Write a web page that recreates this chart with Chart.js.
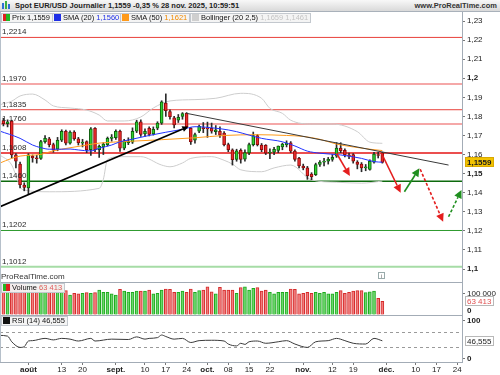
<!DOCTYPE html>
<html lang="fr"><head><meta charset="utf-8">
<title>Spot EUR/USD Journalier</title>
<script src="https://cdn.jsdelivr.net/npm/chart.js@4.4.1/dist/chart.umd.min.js"></script>
<style>
html,body{margin:0;padding:0;background:#fff}
body{position:relative;width:500px;height:375px;overflow:hidden;font-family:"Liberation Sans",Arial,sans-serif;color:#222}
canvas{position:absolute;left:0;display:block}
.abs{position:absolute;white-space:nowrap;z-index:5}
#title{left:0;top:0;width:500px;height:12px;background:linear-gradient(#f8f8f8,#d9d9d9);border-bottom:1px solid #a9b1ba;box-sizing:border-box;font-size:7.5px;font-weight:bold;line-height:11px}
.lg{height:10px;box-sizing:border-box;border:1px solid #c3c8ce;background:rgba(243,243,243,0.95);font-size:7.5px;line-height:8px;padding:0 2px 0 1px;color:#111}
.sq{display:inline-block;width:7px;height:7px;vertical-align:-1px;margin-right:2px}
</style></head><body>
<canvas id="cPrice" width="500" height="270" style="top:12px"></canvas>
<canvas id="cVol" width="500" height="33" style="top:282px"></canvas>
<canvas id="cRsi" width="500" height="60" style="top:315px"></canvas>

<div id="title" class="abs">
  <span class="abs" style="left:2px;top:3px;width:2px;height:6px;background:#2d6fd6"></span>
  <span class="abs" style="left:5px;top:1px;width:2px;height:8px;background:#3cb043"></span>
  <span class="abs" style="left:8px;top:4px;width:2px;height:5px;background:#2d6fd6"></span>
  <span class="abs" style="left:15px;top:0">Spot EUR/USD Journalier 1,1559 -0,35 % 28 nov. 2025, 10:59:51</span>
  <span class="abs" style="right:3px;top:0;color:#333">www.ProRealTime.com</span>
</div>
<div class="abs lg" style="left:1px;top:13px"><span class="sq" style="background:linear-gradient(90deg,#e02020 50%,#22b822 50%)"></span>Prix 1,1559</div>
<div class="abs lg" style="left:52px;top:13px"><span class="sq" style="background:#1f2fe6"></span>SMA (20) <span style="color:#1f2fe6">1,1560</span></div>
<div class="abs lg" style="left:120px;top:13px"><span class="sq" style="background:#ff9a1a"></span>SMA (50) <span style="color:#f08a00">1,1621</span></div>
<div class="abs lg" style="left:190px;top:13px"><span class="sq" style="background:#cfcfcf"></span>Bollinger (20 2,5) <span style="color:#c4c4c4">1,1659 1,1461</span></div>
<div class="abs" style="left:1px;top:272px;font-size:8px;color:#333">ProRealTime.com</div>
<div class="abs" style="left:378px;top:272px;width:7px;height:7px;border:1px solid #9aa;font-size:6px;line-height:7px;text-align:center;color:#666;box-sizing:border-box">i</div>
<div class="abs lg" style="left:1px;top:283px"><span class="sq" style="background:linear-gradient(90deg,#22b822 50%,#e02020 50%)"></span>Volume <span style="color:#e05a5a">63 413</span></div>
<div class="abs lg" style="left:1px;top:316px"><span class="sq" style="background:#111"></span>RSI (14) 46,555</div>
<div class="abs" style="left:0;top:12px;width:1px;height:350px;background:#b6c0ca"></div>

<script>
// ---------------- DATA ----------------
// trading days from 24 juil. 2025 (index 0) to 28 nov. 2025 (index 91)
const openP  = [1.1778,1.1762,1.1775,1.1598,1.1550,1.1440,1.1425,1.1592,1.1582,1.1580,
                1.1668,1.1683,1.1652,1.1628,1.1675,1.1722,1.1660,1.1718,1.1683,1.1660,
                1.1668,1.1625,1.1738,1.1625,1.1640,1.1652,1.1685,1.1688,1.1722,1.1634,
                1.1662,1.1665,1.1722,1.1772,1.1708,1.1738,1.1708,1.1738,1.1764,1.1870,
                1.1825,1.1792,1.1780,1.1800,1.1816,1.1738,1.1676,1.1723,1.1742,1.1738,
                1.1738,1.1720,1.1722,1.1713,1.1652,1.1625,1.1575,1.1622,1.1576,1.1608,
                1.1652,1.1699,1.1650,1.1648,1.1608,1.1612,1.1622,1.1640,1.1652,1.1662,
                1.1618,1.1580,1.1540,1.1530,1.1498,1.1495,1.1548,1.1560,1.1566,1.1575,
                1.1592,1.1634,1.1622,1.1598,1.1600,1.1560,1.1550,1.1530,1.1522,1.1560,
                1.1600,1.1608];
const highP  = [1.1790,1.1782,1.1780,1.1605,1.1560,1.1452,1.1605,1.1598,1.1596,1.1675,
                1.1699,1.1690,1.1660,1.1690,1.1730,1.1728,1.1725,1.1725,1.1690,1.1680,
                1.1672,1.1742,1.1742,1.1650,1.1662,1.1692,1.1705,1.1730,1.1728,1.1680,
                1.1688,1.1740,1.1780,1.1782,1.1735,1.1745,1.1745,1.1772,1.1882,1.1918,
                1.1835,1.1800,1.1810,1.1820,1.1820,1.1742,1.1712,1.1755,1.1768,1.1770,
                1.1765,1.1752,1.1745,1.1720,1.1660,1.1630,1.1628,1.1630,1.1625,1.1660,
                1.1718,1.1705,1.1658,1.1652,1.1630,1.1638,1.1645,1.1660,1.1672,1.1668,
                1.1625,1.1585,1.1550,1.1538,1.1505,1.1555,1.1568,1.1580,1.1585,1.1600,
                1.1663,1.1662,1.1630,1.1608,1.1605,1.1568,1.1558,1.1548,1.1572,1.1612,
                1.1612,1.1612];
const lowP   = [1.1750,1.1745,1.1582,1.1530,1.1425,1.1410,1.1392,1.1560,1.1555,1.1575,
                1.1660,1.1640,1.1612,1.1620,1.1668,1.1650,1.1655,1.1675,1.1650,1.1640,
                1.1610,1.1595,1.1615,1.1585,1.1600,1.1645,1.1670,1.1680,1.1616,1.1625,
                1.1652,1.1658,1.1715,1.1695,1.1695,1.1698,1.1702,1.1730,1.1758,1.1800,
                1.1785,1.1740,1.1768,1.1785,1.1740,1.1653,1.1660,1.1715,1.1715,1.1690,
                1.1712,1.1705,1.1690,1.1645,1.1615,1.1545,1.1565,1.1555,1.1565,1.1600,
                1.1645,1.1645,1.1615,1.1600,1.1578,1.1600,1.1610,1.1625,1.1640,1.1610,
                1.1565,1.1530,1.1520,1.1470,1.1468,1.1490,1.1538,1.1540,1.1550,1.1565,
                1.1585,1.1610,1.1588,1.1578,1.1555,1.1525,1.1510,1.1515,1.1518,1.1555,
                1.1582,1.1555];
const closeP = [1.1762,1.1772,1.1598,1.1566,1.1442,1.1428,1.1598,1.1582,1.1578,1.1668,
                1.1685,1.1652,1.1625,1.1675,1.1722,1.1660,1.1718,1.1683,1.1662,1.1665,
                1.1625,1.1735,1.1625,1.1643,1.1655,1.1685,1.1692,1.1722,1.1634,1.1670,
                1.1670,1.1722,1.1772,1.1705,1.1722,1.1705,1.1732,1.1765,1.1877,1.1830,
                1.1798,1.1755,1.1795,1.1815,1.1746,1.1668,1.1705,1.1748,1.1736,1.1735,
                1.1722,1.1730,1.1702,1.1652,1.1625,1.1573,1.1620,1.1575,1.1610,1.1652,
                1.1699,1.1652,1.1625,1.1607,1.1612,1.1628,1.1645,1.1655,1.1660,1.1618,
                1.1575,1.1540,1.1530,1.1490,1.1484,1.1548,1.1560,1.1565,1.1575,1.1585,
                1.1634,1.1620,1.1598,1.1592,1.1565,1.1548,1.1530,1.1534,1.1566,1.1603,
                1.1595,1.1559];
const volume = [140000,130000,150000,145000,150000,140000,155000,135000,130000,140000,
                135000,130000,120000,135000,125000,112000,92000,100000,97000,100000,
                103000,100000,103000,115000,105000,105000,97000,92000,118000,110000,
                105000,105000,110000,110000,110000,115000,97000,100000,115000,120000,
                118000,105000,105000,110000,105000,120000,105000,112000,115000,130000,
                107000,97000,128000,115000,115000,115000,100000,126000,130000,115000,
                123000,126000,110000,115000,105000,97000,105000,105000,105000,120000,
                118000,97000,100000,105000,100000,105000,100000,105000,97000,97000,
                105000,112000,100000,105000,110000,112000,112000,103000,107000,110000,
                77000,63413];

// indicator lines: [trading-day index] -> value
const sma20Idx = [-1,4,7,9,11,14,16,18,21,23,26,28,30,35,39,43,46,51,54,56,59,62,67,70,73,76,81,86,89,91];
const sma20Val = [1.1724,1.1685,1.1650,1.1636,1.1628,1.1628,1.1629,1.1624,1.1619,1.1633,1.1650,1.1667,1.1676,1.1700,1.1717,1.1732,1.1746,1.1738,1.1729,1.1720,1.1702,1.1685,1.1667,1.1645,1.1618,1.1607,1.1598,1.1580,1.1563,1.1560];
const sma50Idx = [-1,2,4,9,12,15,20,23,30,38,46,53,61,68,72,76,80,84,88,91];
const sma50Val = [1.1554,1.1580,1.1592,1.1601,1.1620,1.1632,1.1650,1.1660,1.1669,1.1678,1.1688,1.1700,1.1704,1.1700,1.1695,1.1680,1.1655,1.1640,1.1628,1.1621];
const bollUpIdx = [-1,2,4,7,10,12,16,20,23,25,29,33,36,40,46,51,57,62,64,67,69,74,79,85,88,91];
const bollUpVal = [1.1860,1.1880,1.1907,1.1917,1.1886,1.1855,1.1844,1.1833,1.1807,1.1776,1.1776,1.1797,1.1844,1.1881,1.1888,1.1895,1.1921,1.1895,1.1842,1.1816,1.1780,1.1760,1.1760,1.1720,1.1665,1.1659];
const bollLoIdx = [-1,2,3,4,5,11,23,24,25,28,33,38,40,43,45,50,53,55,57,62,65,69,74,80,86,91];
const bollLoVal = [1.1600,1.1545,1.1490,1.1430,1.1414,1.1405,1.1423,1.1470,1.1575,1.1589,1.1589,1.1545,1.1536,1.1556,1.1580,1.1589,1.1570,1.1550,1.1520,1.1510,1.1530,1.1545,1.1467,1.1455,1.1450,1.1461];
const rsiIdx = [-1,1,2,4,5,6,7,10,12,14,16,18,21,22,26,30,32,34,35,37,38,39,41,43,45,47,50,53,54,56,57,58,59,61,63,66,68,70,73,75,78,80,82,84,87,89,91];
const rsiVal = [61,59,44,29,31,46,47,53,49,53,51,46,53,46,51,50,57,51,53,55,62,58,51,53,42,47,48,46,38,33,40,37,44,46,40,44,47,38,29,44,47,53,47,40,38,53,46.555];
const rsiLevels = [70, 30];

// horizontal levels drawn on the price panel
const levelPrices = [1.2214,1.1970,1.1835,1.1760,1.1608,1.1460,1.1202,1.1012];
const levelLabels = ['1,2214','1,1970','1,1835','1,1760','1,1608','1,1460','1,1202','1,1012'];
// trend lines [index, price] -> [index, price]
const supportLine    = [[-0.82,1.1327],[44.4,1.1746]];
const resistanceLine = [[44,1.1816],[106.9,1.1545]];
// projected scenario arrows
const scenarioArrows = [
  [[80.0,1.1607],[83.2,1.1488],'down'],
  [[90.8,1.1607],[95.4,1.1400],'down'],
  [[96.3,1.1405],[99.9,1.1528],'up'],
  [[100.1,1.1523],[105.6,1.1248],'down2'],
  [[106.9,1.1274],[110.0,1.1414],'up2']
];

// axis ticks
const priceTicks = [1.10,1.11,1.12,1.13,1.14,1.15,1.16,1.17,1.18,1.19,1.20,1.21,1.22,1.23];
const boldPriceTicks = [1.10,1.15,1.20];
const volTicks = [0,100000];
const rsiTicks = [0,100];
const xTickIdx = [6,14,19,27,34,39,44,49,54,59,64,72,79,84,92,99,104,109];
const xTickLabels = ['août','13','20','sept.','10','17','24','oct.','08','15','22','nov.','12','19','déc.','10','17','24'];
const lastPriceText = '1,1559', lastVolText = '63 413', lastRsiText = '46,555';

// ---------------- LAYOUT / STYLE ----------------
const FONT = '"Liberation Sans", Arial, sans-serif';
Chart.defaults.font.family = FONT;
Chart.defaults.animation = false;
Chart.defaults.plugins.legend.display = false;
Chart.defaults.plugins.tooltip.enabled = false;
Chart.defaults.events = [];

const X_MIN = -0.82, X_MAX = 110.13;
const AXIS_W = 38;
const P_MAX = 1.234717, P_MIN = 1.093208;
const levelColors = ['#e8403a','#f5a8a8','#e8403a','#f5a8a8','#e51515','#0d6a0d','#2e9a2e','#a6dca6'];
const levelWidths = [1,2,1,2,1.5,1.5,1,2];
const UPC = '#2fcf2f', DNC = '#ee2a2a', UPB = '#0d5e0d', DNB = '#8a0c0c';
const BORDER = '#a3acb6';

const idx = openP.map((_, i) => i);
const isUp = idx.map(i => closeP[i] >= openP[i]);
const pts = (xs, ys) => xs.map((x, k) => ({x, y: ys[k]}));
const fmtPrice = v => String(+v.toFixed(2)).replace('.', ',');

function yAxisBase(extra) {
  return Object.assign({
    position: 'right',
    afterFit: s => { s.width = AXIS_W; s.paddingTop = 0; s.paddingBottom = 0; },
    grid: {drawOnChartArea: false, drawTicks: true, tickLength: 3, color: '#777'},
    border: {display: true, color: BORDER},
  }, extra);
}
function hiddenX() {
  return {type: 'linear', display: false, min: X_MIN, max: X_MAX, offset: false};
}
function valueBox(chart, scaleId, value, text, o) {
  const s = chart.scales[scaleId], ctx = chart.ctx;
  const y = Math.round(s.getPixelForValue(value));
  ctx.save();
  ctx.font = o.font;
  const w = Math.ceil(ctx.measureText(text).width) + 4;
  ctx.fillStyle = o.bg;
  ctx.fillRect(s.left + 3, y - 5, w, 10);
  if (o.border) { ctx.strokeStyle = o.border; ctx.lineWidth = 1; ctx.strokeRect(s.left + 3.5, y - 4.5, w - 1, 9); }
  ctx.fillStyle = o.color; ctx.textBaseline = 'middle'; ctx.textAlign = 'left';
  ctx.fillText(text, s.left + 5, y + 0.5);
  ctx.restore();
}
function arrow(ctx, x1, y1, x2, y2, color, width, dash, head) {
  const a = Math.atan2(y2 - y1, x2 - x1);
  const hx = x2 - head * Math.cos(a), hy = y2 - head * Math.sin(a);
  ctx.save();
  ctx.strokeStyle = color; ctx.lineWidth = width; ctx.setLineDash(dash);
  ctx.beginPath(); ctx.moveTo(x1, y1); ctx.lineTo(hx, hy); ctx.stroke();
  ctx.setLineDash([]); ctx.fillStyle = color;
  const hw = head * 0.5;
  ctx.beginPath(); ctx.moveTo(x2, y2);
  ctx.lineTo(hx + hw * Math.sin(a), hy - hw * Math.cos(a));
  ctx.lineTo(hx - hw * Math.sin(a), hy + hw * Math.cos(a));
  ctx.closePath(); ctx.fill();
  ctx.restore();
}
function panelTop(chart) {
  const ctx = chart.ctx, a = chart.chartArea;
  ctx.save(); ctx.strokeStyle = BORDER; ctx.lineWidth = 1;
  ctx.beginPath(); ctx.moveTo(0, a.top + 0.5); ctx.lineTo(a.right, a.top + 0.5); ctx.stroke();
  ctx.restore();
}

// ---------------- PRICE PANEL ----------------
const pricePlugin = {
  id: 'priceDeco',
  beforeDatasetsDraw(chart) {
    const {ctx, chartArea: a, scales: {y}} = chart;
    ctx.save();
    levelPrices.forEach((p, k) => {
      const py = y.getPixelForValue(p);
      ctx.strokeStyle = levelColors[k]; ctx.lineWidth = levelWidths[k];
      ctx.beginPath(); ctx.moveTo(a.left, py); ctx.lineTo(a.right, py); ctx.stroke();
    });
    ctx.restore();
  },
  afterDatasetsDraw(chart) {
    const {ctx, chartArea: a, scales: {x, y}} = chart;
    ctx.save();
    ctx.beginPath(); ctx.rect(a.left, a.top, a.right - a.left, a.bottom - a.top); ctx.clip();
    // level labels
    ctx.font = '8px ' + FONT; ctx.fillStyle = '#2a2a2a'; ctx.textBaseline = 'alphabetic';
    levelPrices.forEach((p, k) => ctx.fillText(levelLabels[k], 2, y.getPixelForValue(p) - 3));
    // resistance line
    ctx.strokeStyle = '#3a3a3a'; ctx.lineWidth = 1;
    ctx.beginPath();
    ctx.moveTo(x.getPixelForValue(resistanceLine[0][0]), y.getPixelForValue(resistanceLine[0][1]));
    ctx.lineTo(x.getPixelForValue(resistanceLine[1][0]), y.getPixelForValue(resistanceLine[1][1]));
    ctx.stroke();
    // support line with arrow head
    arrow(ctx, x.getPixelForValue(supportLine[0][0]), y.getPixelForValue(supportLine[0][1]),
          x.getPixelForValue(supportLine[1][0]), y.getPixelForValue(supportLine[1][1]), '#000', 1.6, [], 6);
    // scenario arrows
    scenarioArrows.forEach(([p1, p2, kind]) => {
      const col = kind.startsWith('up') ? '#1f8f1f' : '#e41e1e';
      const dash = kind.endsWith('2') ? [3, 2] : [];
      arrow(ctx, x.getPixelForValue(p1[0]), y.getPixelForValue(p1[1]),
            x.getPixelForValue(p2[0]), y.getPixelForValue(p2[1]), col, 1.6, dash, 8);
    });
    ctx.restore();
  },
  afterDraw(chart) {
    valueBox(chart, 'y', closeP[closeP.length - 1], lastPriceText,
      {font: 'bold 8px ' + FONT, bg: '#f2c200', color: '#1a1a1a', border: '#d9a800'});
  }
};

new Chart(document.getElementById('cPrice'), {
  type: 'bar',
  data: {
    datasets: [
      {type: 'line', data: pts(sma20Idx, sma20Val), borderColor: '#2233ff', borderWidth: 1, pointRadius: 0, cubicInterpolationMode: 'monotone', order: 1},
      {type: 'line', data: pts(sma50Idx, sma50Val), borderColor: '#ff9a1a', borderWidth: 1, pointRadius: 0, cubicInterpolationMode: 'monotone', order: 1},
      {type: 'bar', data: idx.map(i => ({x: i, y: [openP[i], closeP[i]]})),
        backgroundColor: isUp.map(u => u ? UPC : DNC), borderColor: isUp.map(u => u ? UPB : DNB),
        borderWidth: 1, borderSkipped: false, barThickness: 3, minBarLength: 1, grouped: false, order: 2},
      {type: 'bar', data: idx.map(i => ({x: i, y: [lowP[i], highP[i]]})),
        backgroundColor: '#2b2b2b', borderWidth: 0, barThickness: 1, grouped: false, order: 3},
      {type: 'line', data: pts(bollUpIdx, bollUpVal), borderColor: '#cdcdcd', borderWidth: 1, pointRadius: 0, cubicInterpolationMode: 'monotone', order: 4},
      {type: 'line', data: pts(bollLoIdx, bollLoVal), borderColor: '#cdcdcd', borderWidth: 1, pointRadius: 0, cubicInterpolationMode: 'monotone', order: 4}
    ]
  },
  options: {
    responsive: false,
    layout: {padding: 0},
    scales: {
      x: hiddenX(),
      y: yAxisBase({
        type: 'linear', min: P_MIN, max: P_MAX,
        afterBuildTicks: s => { s.ticks = priceTicks.map(v => ({value: v})); },
        ticks: {
          padding: 2, color: '#222', autoSkip: false,
          callback: v => fmtPrice(v),
          font: c => ({family: FONT, size: 8, weight: (c.tick && boldPriceTicks.some(b => Math.abs(b - c.tick.value) < 1e-6)) ? 'bold' : 'normal'})
        }
      })
    }
  },
  plugins: [pricePlugin]
});

// ---------------- VOLUME PANEL ----------------
const volPlugin = {
  id: 'volDeco',
  afterDraw(chart) {
    panelTop(chart);
    const s = chart.scales.y, ctx = chart.ctx;
    ctx.save(); ctx.font = 'bold 8px ' + FONT; ctx.fillStyle = '#222'; ctx.textBaseline = 'alphabetic';
    ctx.fillText('0', s.left + 5, s.getPixelForValue(0) - 2);
    ctx.restore();
    valueBox(chart, 'y', volume[volume.length - 1], lastVolText,
      {font: '8px ' + FONT, bg: '#fff', color: '#e05050', border: '#b8b8b8'});
  }
};
new Chart(document.getElementById('cVol'), {
  type: 'bar',
  data: {
    datasets: [{
      data: idx.map(i => ({x: i, y: volume[i]})),
      backgroundColor: isUp.map(u => u ? '#6ad86a' : '#f27d7d'),
      borderColor: isUp.map(u => u ? '#1ea81e' : '#d42a2a'),
      borderWidth: 1, borderSkipped: 'start', barThickness: 3, grouped: false
    }]
  },
  options: {
    responsive: false,
    layout: {padding: 0},
    scales: {
      x: hiddenX(),
      y: yAxisBase({
        type: 'linear', min: 0, max: 152074,
        afterBuildTicks: s => { s.ticks = volTicks.map(v => ({value: v})); },
        ticks: {padding: 2, color: '#222', autoSkip: false, font: {size: 8},
          callback: v => v === 0 ? '' : String(v).replace(/\B(?=(\d{3})+(?!\d))/g, ' ')}
      })
    }
  },
  plugins: [volPlugin]
});

// ---------------- RSI PANEL ----------------
const rsiPlugin = {
  id: 'rsiDeco',
  beforeDatasetsDraw(chart) {
    const {ctx, chartArea: a, scales: {y}} = chart;
    ctx.save(); ctx.strokeStyle = '#9a9a9a'; ctx.lineWidth = 1; ctx.setLineDash([3, 3]);
    rsiLevels.forEach(v => {
      const py = Math.round(y.getPixelForValue(v)) + 0.5;
      ctx.beginPath(); ctx.moveTo(a.left, py); ctx.lineTo(a.right, py); ctx.stroke();
    });
    ctx.restore();
  },
  afterDraw(chart) {
    panelTop(chart);
    valueBox(chart, 'y', rsiVal[rsiVal.length - 1], lastRsiText,
      {font: '8px ' + FONT, bg: '#fff', color: '#222', border: '#b8b8b8'});
  }
};
new Chart(document.getElementById('cRsi'), {
  type: 'line',
  data: {
    datasets: [{data: pts(rsiIdx, rsiVal), borderColor: '#3a3a3a', borderWidth: 1, pointRadius: 0, cubicInterpolationMode: 'monotone'}]
  },
  options: {
    responsive: false,
    layout: {padding: 0},
    scales: {
      x: {
        type: 'linear', position: 'bottom', min: X_MIN, max: X_MAX, offset: false,
        afterBuildTicks: s => { s.ticks = xTickIdx.map(v => ({value: v})); },
        afterFit: s => { s.height = 13; s.paddingLeft = 0; s.paddingRight = 0; },
        grid: {drawOnChartArea: false, drawTicks: true, tickLength: 3, color: '#777'},
        border: {display: true, color: BORDER},
        ticks: {
          padding: 0, autoSkip: false, maxRotation: 0, minRotation: 0, color: '#222',
          callback: (v, i) => xTickLabels[i],
          font: c => ({family: FONT, size: 8, weight: /^\d+$/.test(xTickLabels[c.index] || '0') ? 'normal' : 'bold'})
        }
      },
      y: yAxisBase({
        type: 'linear', min: -9.8, max: 115.2,
        afterBuildTicks: s => { s.ticks = rsiTicks.map(v => ({value: v})); },
        ticks: {padding: 2, color: '#222', autoSkip: false, font: {size: 8, weight: 'bold'}}
      })
    }
  },
  plugins: [rsiPlugin]
});
</script>
</body></html>
